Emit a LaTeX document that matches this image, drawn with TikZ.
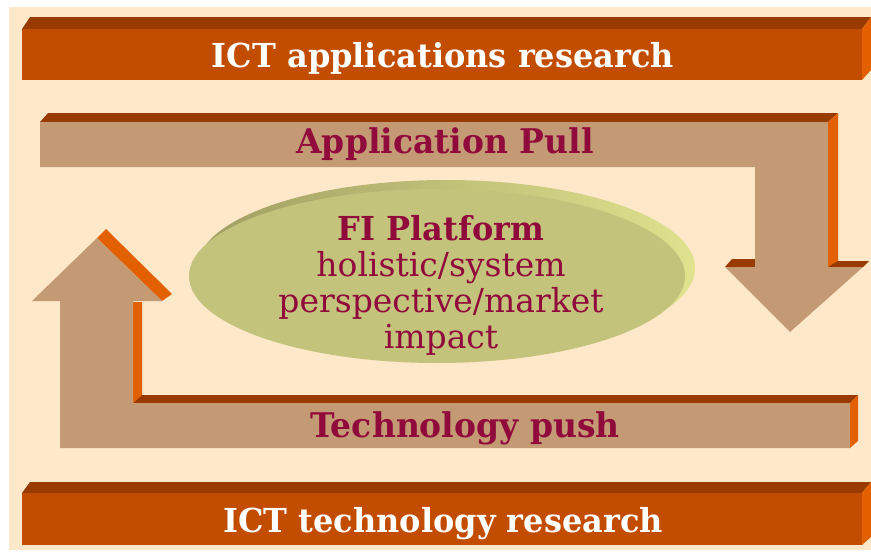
\documentclass[tikz,border=0pt]{standalone}
\usepackage{fontspec}
\usepackage{color}
\usepackage{tikz}
\setmainfont{DejaVu Serif}[BoldFeatures={FakeStretch=0.97}]

\definecolor{cream}{RGB}{253,232,201}
\definecolor{barfront}{RGB}{194,77,0}
\definecolor{bartop}{RGB}{153,58,0}
\definecolor{barside}{RGB}{226,96,0}
\definecolor{arrowbody}{RGB}{196,154,116}
\definecolor{wine}{RGB}{145,10,60}
\definecolor{olive}{RGB}{195,195,123}
\definecolor{olivedark}{RGB}{160,158,98}
\definecolor{olivelight}{RGB}{224,226,142}

\begin{document}
\begin{tikzpicture}[x=1pt, y=-1pt,
		barlabel/.style={white, font=\bfseries\fontsize{33}{36}\selectfont, anchor=base, inner sep=0pt},
		arrowlabel/.style={wine, font=\bfseries\fontsize{34}{36}\selectfont, anchor=base, inner sep=0pt}]

			\useasboundingbox (0, 0) rectangle (871, 554);
			\fill[cream] (9, 7) rectangle (871, 550);

			\fill[bartop] (22, 29)--(30, 17)--(871, 17)--(862, 29)--cycle;
			\fill[barside] (862, 29)--(871, 17)--(871, 70)--(862, 80)--cycle;
			\fill[barfront] (22, 29) rectangle (862, 80);

			\fill[bartop] (22, 493)--(30, 482)--(871, 482)--(862, 493)--cycle;
			\fill[barside] (862, 493)--(871, 482)--(871, 537)--(862, 545)--cycle;
			\fill[barfront] (22, 493) rectangle (862, 545);

			\fill[bartop] (40, 122)--(48, 113)--(838, 113)--(828, 122)--cycle;
			\fill[barside] (828, 122)--(838, 113)--(838, 262)--(828, 267)--cycle;
			\fill[bartop] (828, 267)--(838, 261)--(869, 261)--(863, 267)--cycle;
			\fill[bartop] (725, 267)--(732, 259)--(755, 259)--(755, 267)--cycle;
			\fill[arrowbody] (40, 122)--(828, 122)--(828, 267)--(863, 267)--(790, 332)--(725, 267)--(755, 267)--(755, 167)--(40, 167)--cycle;

			\fill[bartop] (133, 403)--(141, 395)--(858, 395)--(850, 403)--cycle;
			\fill[barside] (850, 403)--(858, 395)--(858, 441)--(850, 448)--cycle;
			\fill[barside] (133, 302)--(142, 302)--(142, 395)--(133, 403)--cycle;
			\fill[barside] (97, 238)--(106, 229)--(172, 294)--(162, 301)--cycle;
			\fill[arrowbody] (60, 448)--(850, 448)--(850, 403)--(133, 403)--(133, 301)--(162, 301)--(97, 238)--(32, 301)--(60, 301)--cycle;

			\shade[left color=olivedark, right color=olivelight] (446, 268) ellipse [x radius=249, y radius=88];
			\fill[olive] (437, 276) ellipse [x radius=248, y radius=87];

			\node[barlabel] (apps) at (443, 67) {ICT applications research};
			\node[barlabel] (tech) at (443, 532) {ICT technology research};
			\node[arrowlabel] (pull) at (445, 153) {Application Pull};
			\node[arrowlabel] (push) at (465, 437) {Technology push};
			\node[wine, anchor=north, inner sep=0pt, align=center, font=\fontsize{33}{36}\selectfont] (platform) at (441, 215)
				{\textbf{FI Platform}\\holistic/system\\perspective/market\\impact};
		\end{tikzpicture}
\end{document}
